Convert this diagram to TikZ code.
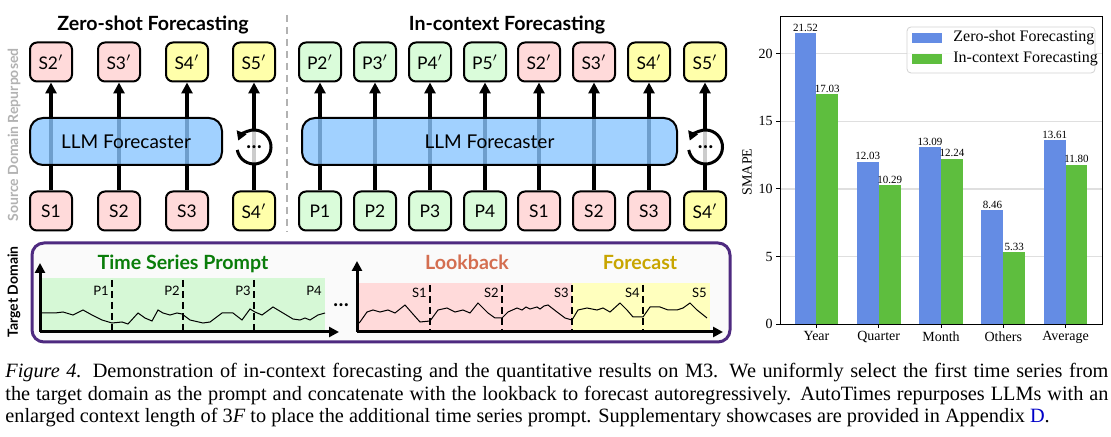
\documentclass[tikz,border=0pt]{standalone}
\usepackage{fontspec}
\setmainfont{Liberation Serif}
\newfontfamily\diagfont{Lato}
\usetikzlibrary{arrows.meta, positioning}
\definecolor{segpink}{RGB}{255,218,218}
\definecolor{seggreen}{RGB}{218,252,218}
\definecolor{segyellow}{RGB}{255,255,170}
\definecolor{llmblue}{RGB}{138,198,255}
\definecolor{promptfill}{RGB}{214,248,214}
\definecolor{lookfill}{RGB}{255,218,218}
\definecolor{forefill}{RGB}{255,255,190}
\definecolor{prompttext}{RGB}{10,125,10}
\definecolor{looktext}{RGB}{212,110,80}
\definecolor{foretext}{RGB}{200,165,0}
\definecolor{tdpurple}{RGB}{78,42,128}
\definecolor{zsblue}{RGB}{100,140,228}
\definecolor{icgreen}{RGB}{94,190,62}
\definecolor{linkblue}{RGB}{0,0,200}

\begin{document}
\begin{tikzpicture}[x=0.5pt, y=-0.5pt, >={Triangle[length=5.5pt, width=5.5pt]},
    seg/.style={draw, line width=1pt, rounded corners=3.5pt, minimum width=21pt, minimum height=19.5pt, inner sep=0pt, font=\diagfont\fontsize{8.7}{10}\selectfont},
    llm/.style={draw, line width=1pt, rounded corners=6.5pt, fill=llmblue, fill opacity=0.8, text opacity=1, minimum height=23.5pt, inner sep=0pt, font=\diagfont\fontsize{9.5}{11}\selectfont},
    flow/.style={->, line width=1.6pt},
    loopnode/.style={circle, fill=white, fill opacity=0.8, text opacity=1, minimum size=17pt, inner sep=0pt, font=\diagfont\bfseries\fontsize{10}{10}\selectfont},
    paneltitle/.style={anchor=base, inner sep=0pt, font=\diagfont\bfseries\fontsize{9.8}{11}\selectfont},
    sidelabel/.style={rotate=90, inner sep=0pt, font=\diagfont\bfseries\fontsize{7}{8}\selectfont},
    seglabel/.style={anchor=east, inner sep=0.5pt, font=\diagfont\fontsize{6.5}{7}\selectfont},
    splitline/.style={dashed, dash pattern=on 3.5pt off 2pt, line width=1pt},
    axis/.style={->, line width=1.5pt, >={Triangle[length=5pt, width=5pt]}},
    series/.style={line width=0.5pt},
    val/.style={anchor=south, inner sep=0.6pt, font=\fontsize{5.5}{6}\selectfont},
    tick/.style={inner sep=1pt, font=\fontsize{7}{8}\selectfont},
    gridline/.style={line width=0.7pt, draw=gray!25}]

\fill[white] (0,0) rectangle (1111,437);
\useasboundingbox (0,0) rectangle (1111,437);

% ---------- source domain: zero-shot ----------
\node[paneltitle] (ztitle) at (153,31) {Zero-shot Forecasting};
\foreach \i/\x/\lin/\cin/\lout/\cout in {1/51/S1/segpink/S2$'$/segpink, 2/119/S2/segpink/S3$'$/segpink, 3/187/S3/segpink/S4$'$/segyellow, 4/254/S4$'$/segyellow/S5$'$/segyellow}{
    \node[seg, fill=\cin] (zin\i) at (\x,211) {\lin};
    \node[seg, fill=\cout] (zout\i) at (\x,62) {\lout};
}
\foreach \i in {1,2,3,4}
    \draw[flow] (zin\i) -- (zout\i);
\node[llm, minimum width=96pt] (zllm) at (126,141.5) {LLM Forecaster};
\node[loopnode] (zloop) at (254,147) {\ldots};
\draw[line width=1.5pt, -{Triangle[length=4.5pt, width=5pt]}] (zloop.center) ++(-190:17) arc[start angle=-190, end angle=-518, radius=17];

\draw[gray!60, dashed, dash pattern=on 3.5pt off 2.5pt, line width=1.2pt] (287,15) -- (287,232);

% ---------- source domain: in-context ----------
\node[paneltitle] (ctitle) at (507,31) {In-context Forecasting};
\foreach \i/\x/\lin/\cin/\lout/\cout in {1/320/P1/seggreen/P2$'$/seggreen, 2/375/P2/seggreen/P3$'$/seggreen, 3/430/P3/seggreen/P4$'$/seggreen, 4/485/P4/seggreen/P5$'$/seggreen, 5/539/S1/segpink/S2$'$/segpink, 6/594/S2/segpink/S3$'$/segpink, 7/649/S3/segpink/S4$'$/segyellow, 8/705/S4$'$/segyellow/S5$'$/segyellow}{
    \node[seg, fill=\cin] (cin\i) at (\x,211) {\lin};
    \node[seg, fill=\cout] (cout\i) at (\x,62) {\lout};
}
\foreach \i in {1,...,8}
    \draw[flow] (cin\i) -- (cout\i);
\node[llm, minimum width=187.5pt] (cllm) at (489.5,141.5) {LLM Forecaster};
\node[loopnode] (cloop) at (705.5,147) {\ldots};
\draw[line width=1.5pt, -{Triangle[length=4.5pt, width=5pt]}] (cloop.center) ++(-190:17) arc[start angle=-190, end angle=-518, radius=17];

\node[sidelabel, text=gray!60] (srclabel) at (14,135) {Source Domain Repurposed};

% ---------- target domain ----------
\draw[line width=1.5pt, draw=tdpurple, fill=gray!4, rounded corners=6pt] (32,243) rectangle (730,342);
\node[sidelabel] (tgtlabel) at (14,292) {Target Domain};

% prompt series
\fill[promptfill] (40,278) rectangle (325,332);
\node[paneltitle, text=prompttext] (prompttitle) at (183,270) {Time Series Prompt};
\foreach \x/\lab in {112/P1, 183/P2, 254/P3}{
    \draw[splitline] (\x,280) -- (\x,332);
    \node[seglabel] at ({\x-2},291) {\lab};
}
\node[seglabel] at (323,291) {P4};
\draw[series] plot coordinates {(40,313) (55,313) (63,312) (73,315) (83,310) (92,315) (102,320) (112,323) (122,322) (128,324) (138,313) (145,318) (152,321) (158,310) (163,313) (170,315) (177,313) (182,314) (190,320) (203,323) (210,322) (222,313) (233,313) (242,320) (250,309) (255,312) (262,315) (273,307) (283,313) (293,319) (300,320) (305,318) (310,320) (318,315) (325,313)};
\draw[axis] (40,332) -- (40,263);
\draw[axis] (40,332) -- (339,332);
\node[inner sep=0pt, font=\diagfont\bfseries\fontsize{10}{10}\selectfont] (gap) at (341,305) {\ldots};

% lookback and forecast series
\fill[lookfill] (357,283) rectangle (572,332);
\fill[forefill] (572,283) rectangle (710,332);
\node[paneltitle, text=looktext] (looktitle) at (467,270) {Lookback};
\node[paneltitle, text=foretext] (foretitle) at (640,270) {Forecast};
\foreach \x/\lab in {430/S1, 502/S2, 572/S3, 643/S4}{
    \draw[splitline] (\x,285) -- (\x,332);
    \node[seglabel] at ({\x-2},293) {\lab};
}
\node[seglabel] at (708,293) {S5};
\draw[series] plot coordinates {(358,324) (360,322) (367,312) (373,310) (380,312) (388,310) (395,313) (405,305) (412,313) (420,322) (430,321) (438,310) (447,308) (455,312) (463,310) (470,313) (478,303) (488,313) (495,318) (502,318) (508,312) (517,308) (522,310) (526,307) (530,309) (537,307) (540,309) (544,306) (548,305) (557,312) (565,318) (572,320) (578,310) (587,308) (597,310) (603,308) (610,312) (620,303) (627,310) (633,317) (643,317) (650,307) (660,307) (668,310) (677,310) (683,308) (690,303) (697,310) (707,318)};
\draw[axis] (357,332) -- (357,261);
\draw[axis] (357,332) -- (723,332);

% ---------- SMAPE chart ----------
\foreach \v in {5,10,15,20}
    \draw[gridline] (780,{324.3-13.53*\v}) -- (1102,{324.3-13.53*\v});
\foreach \g/\lab/\za/\ic in {0/Year/21.52/17.03, 1/Quarter/12.03/10.29, 2/Month/13.09/12.24, 3/Others/8.46/5.33, 4/Average/13.61/11.80}{
    \pgfmathsetmacro\cx{780+(\g+0.585)*62.28}
    \fill[zsblue] ({\cx-21.8},324.3) rectangle (\cx,{324.3-13.53*\za});
    \fill[icgreen] (\cx,324.3) rectangle ({\cx+21.8},{324.3-13.53*\ic});
    \node[val] at ({\cx-10.9},{324.3-13.53*\za}) {\za};
    \node[val] at ({\cx+10.9},{324.3-13.53*\ic}) {\ic};
    \draw[line width=0.5pt] (\cx,324.3) -- (\cx,328);
    \node[tick, anchor=north] at (\cx,329) {\lab};
}
\foreach \v in {0,5,10,15,20}{
    \draw[line width=0.5pt] (780,{324.3-13.53*\v}) -- (776,{324.3-13.53*\v});
    \node[tick, anchor=east] at (775,{324.3-13.53*\v}) {\v};
}
\draw[line width=0.5pt] (780,17) rectangle (1102,324.3);
\node[tick, rotate=90] (smape) at (747,172) {SMAPE};
\draw[draw=gray!35, fill=white, fill opacity=0.8, rounded corners=2pt] (907,27) rectangle (1095,73);
\fill[zsblue] (912,33) rectangle (942,43);
\fill[icgreen] (912,54) rectangle (942,64);
\node[anchor=west, inner sep=0pt, font=\fontsize{8}{9}\selectfont] (zslegend) at (953,38) {Zero-shot Forecasting};
\node[anchor=west, inner sep=0pt, font=\fontsize{8}{9}\selectfont] (iclegend) at (953,59) {In-context Forecasting};

% ---------- caption ----------
\node[anchor=base west, inner sep=0pt, font=\fontsize{10.15}{11.25}\selectfont] (caption) at (5,378) {\parbox[t]{551.5pt}{\textit{Figure 4.} Demonstration of in-context forecasting and the quantitative results on M3. We uniformly select the first time series from\linebreak the target domain as the prompt and concatenate with the lookback to forecast autoregressively. AutoTimes repurposes LLMs with an\linebreak enlarged context length of 3\textit{F} to place the additional time series prompt. Supplementary showcases are provided in Appendix \textcolor{linkblue}{D}.}};
\end{tikzpicture}
\end{document}
